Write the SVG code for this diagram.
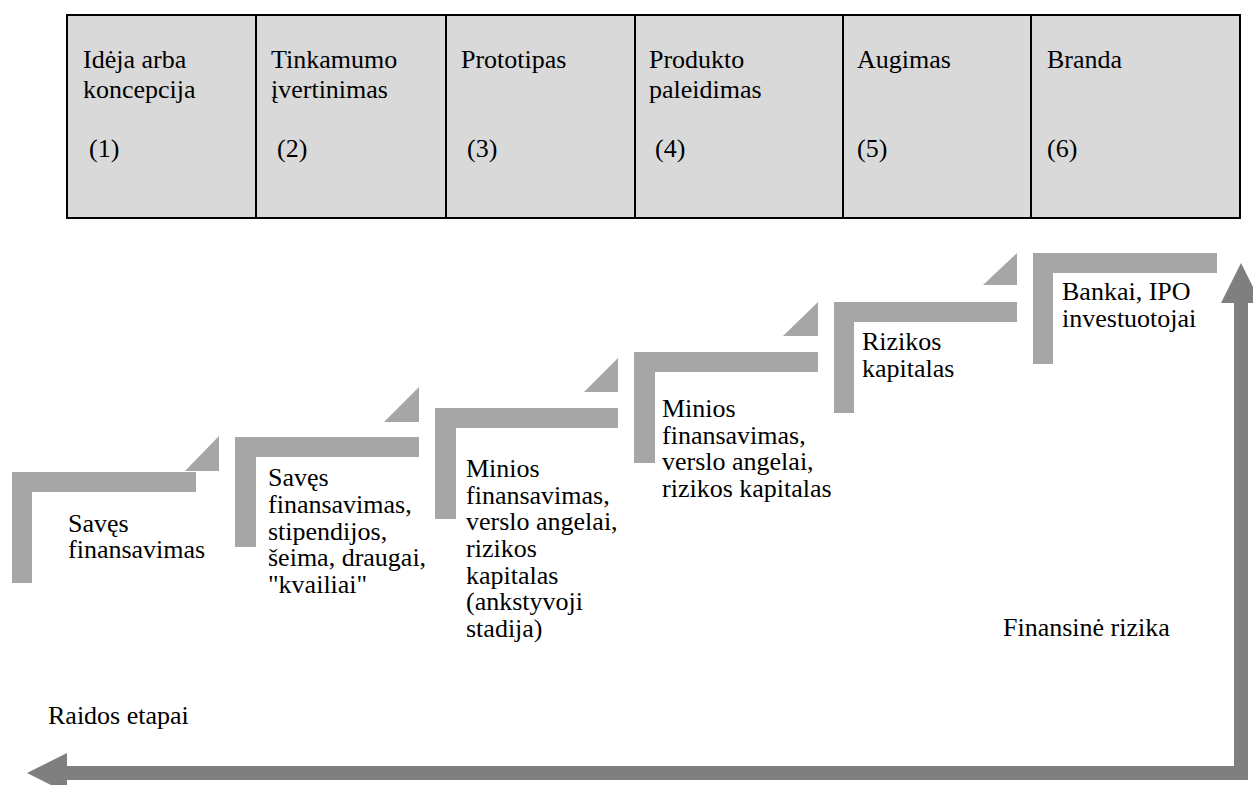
<svg xmlns="http://www.w3.org/2000/svg" width="1253" height="785" viewBox="0 0 1253 785">
  <style>
    .cell { fill: #d9d9d9; stroke: #000; stroke-width: 2; }
    .t { font-family: "Liberation Serif", Tinos, "Times New Roman", "Nimbus Roman", "DejaVu Serif", serif; font-size: 26px; fill: #000; }
    .bar { fill: #a6a6a6; }
    .axis { fill: none; stroke: #7f7f7f; stroke-width: 14; stroke-linejoin: miter; }
    .head { fill: #7f7f7f; }
  </style>

  <!-- Stage table -->
  <g id="stage1">
    <rect class="cell" x="67" y="15" width="189" height="203"/>
    <text class="t" x="83" y="68">Idėja arba</text>
    <text class="t" x="83" y="98">koncepcija</text>
    <text class="t" x="89" y="157">(1)</text>
  </g>
  <g id="stage2">
    <rect class="cell" x="256" y="15" width="190" height="203"/>
    <text class="t" x="271" y="68">Tinkamumo</text>
    <text class="t" x="271" y="98">įvertinimas</text>
    <text class="t" x="277" y="157">(2)</text>
  </g>
  <g id="stage3">
    <rect class="cell" x="446" y="15" width="189" height="203"/>
    <text class="t" x="461" y="68">Prototipas</text>
    <text class="t" x="467" y="157">(3)</text>
  </g>
  <g id="stage4">
    <rect class="cell" x="635" y="15" width="208" height="203"/>
    <text class="t" x="649" y="68">Produkto</text>
    <text class="t" x="649" y="98">paleidimas</text>
    <text class="t" x="655" y="157">(4)</text>
  </g>
  <g id="stage5">
    <rect class="cell" x="843" y="15" width="188" height="203"/>
    <text class="t" x="857" y="68">Augimas</text>
    <text class="t" x="857" y="157">(5)</text>
  </g>
  <g id="stage6">
    <rect class="cell" x="1031" y="15" width="209" height="203"/>
    <text class="t" x="1047" y="68">Branda</text>
    <text class="t" x="1047" y="157">(6)</text>
  </g>

  <!-- Financing steps -->
  <g id="step1">
    <path class="bar" d="M12 472 H196 V492 H32 V583 H12 Z"/>
    <path class="bar" d="M185 471 L219 436 V471 Z"/>
    <text class="t" x="68" y="532">Savęs</text>
    <text class="t" x="68" y="558">finansavimas</text>
  </g>
  <g id="step2">
    <path class="bar" d="M235 437 H419 V457 H256 V547 H235 Z"/>
    <path class="bar" d="M384 422 L419 387 V422 Z"/>
    <text class="t" x="268" y="486">Savęs</text>
    <text class="t" x="268" y="513">finansavimas,</text>
    <text class="t" x="268" y="540">stipendijos,</text>
    <text class="t" x="268" y="566">šeima, draugai,</text>
    <text class="t" x="268" y="593">"kvailiai"</text>
  </g>
  <g id="step3">
    <path class="bar" d="M435 408 H618 V428 H456 V519 H435 Z"/>
    <path class="bar" d="M584 392 L618 358 V392 Z"/>
    <text class="t" x="466" y="477">Minios</text>
    <text class="t" x="466" y="504">finansavimas,</text>
    <text class="t" x="466" y="530">verslo angelai,</text>
    <text class="t" x="466" y="557">rizikos</text>
    <text class="t" x="466" y="584">kapitalas</text>
    <text class="t" x="466" y="610">(ankstyvoji</text>
    <text class="t" x="466" y="637">stadija)</text>
  </g>
  <g id="step4">
    <path class="bar" d="M634 352 H818 V372 H655 V463 H634 Z"/>
    <path class="bar" d="M783 336 L818 302 V336 Z"/>
    <text class="t" x="662" y="417">Minios</text>
    <text class="t" x="662" y="444">finansavimas,</text>
    <text class="t" x="662" y="470">verslo angelai,</text>
    <text class="t" x="662" y="497">rizikos kapitalas</text>
  </g>
  <g id="step5">
    <path class="bar" d="M834 302 H1017 V322 H854 V413 H834 Z"/>
    <path class="bar" d="M983 285 L1017 253 V285 Z"/>
    <text class="t" x="862" y="350">Rizikos</text>
    <text class="t" x="862" y="377">kapitalas</text>
  </g>
  <g id="step6">
    <path class="bar" d="M1033 253 H1217 V273 H1053 V364 H1033 Z"/>
    <text class="t" x="1062" y="300">Bankai, IPO</text>
    <text class="t" x="1062" y="327">investuotojai</text>
  </g>

  <!-- Axes -->
  <g id="connectors">
    <polyline class="axis" points="1241,300 1241,773 64,773"/>
    <path class="head" d="M1241 263 L1261 303 H1221 Z"/>
    <path class="head" d="M27 773 L67 753 V793 Z"/>
  </g>

  <g id="labels">
    <text class="t" x="1003" y="636">Finansinė rizika</text>
    <text class="t" x="48" y="724">Raidos etapai</text>
  </g>
</svg>
